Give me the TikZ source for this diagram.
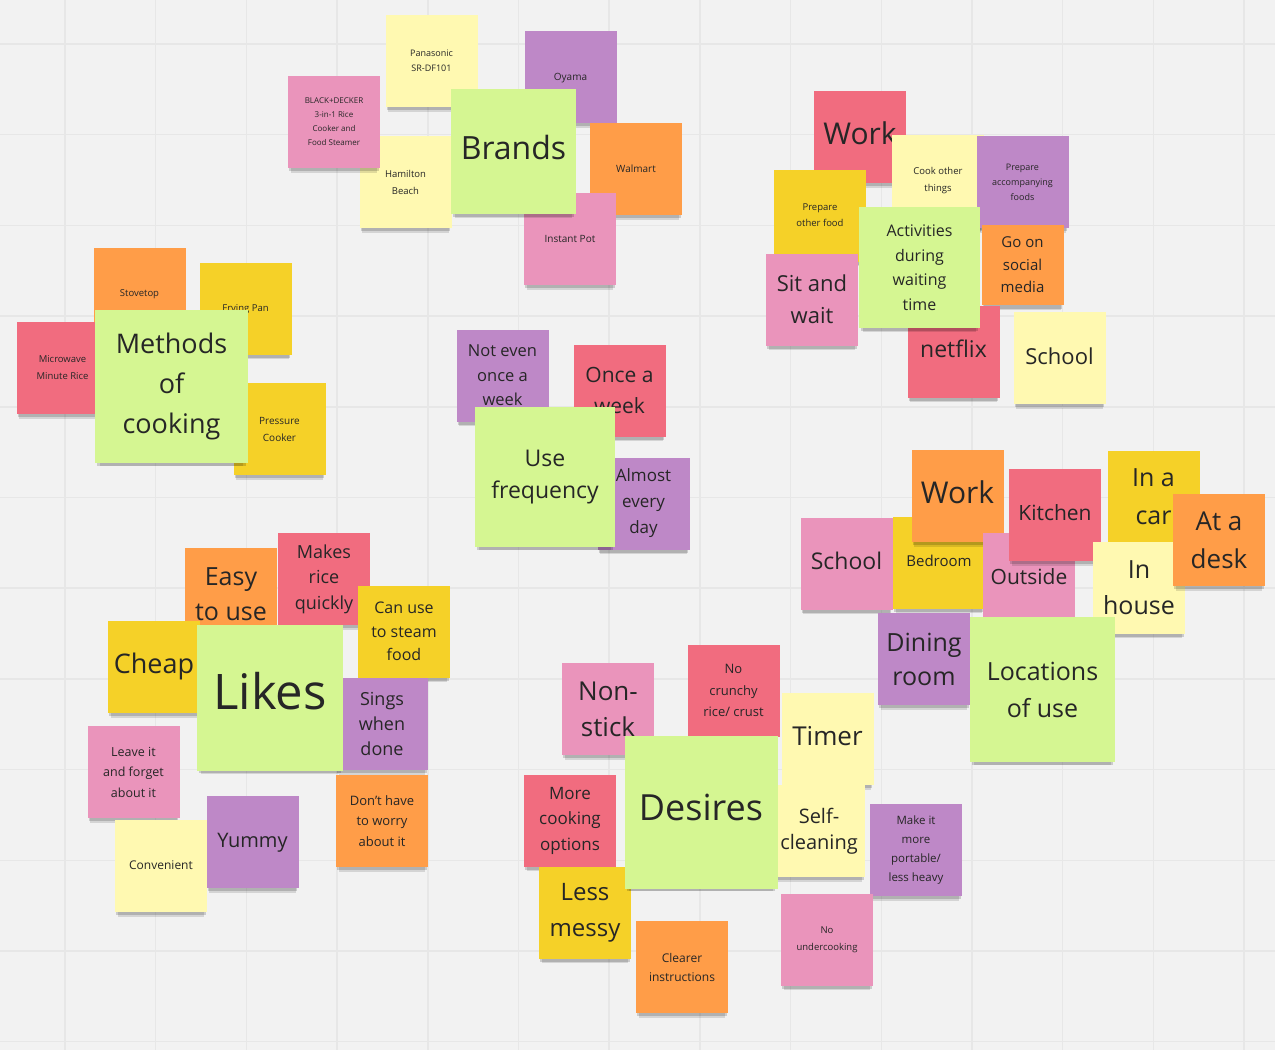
\documentclass[tikz,border=0pt]{standalone}
\usepackage{fontspec}
\setmainfont{Open Sans}
\usetikzlibrary{shadows}

\definecolor{canvas}{HTML}{F2F2F2}
\definecolor{gridline}{HTML}{E7E7E7}
\definecolor{ink}{HTML}{262626}
\definecolor{notepale}{HTML}{FFF9B1}
\definecolor{noteyellow}{HTML}{F5D128}
\definecolor{noteorange}{HTML}{FF9D48}
\definecolor{notered}{HTML}{F16C7F}
\definecolor{notepink}{HTML}{EA94BB}
\definecolor{noteviolet}{HTML}{BE88C7}
\definecolor{notegreen}{HTML}{D5F692}

\newcommand{\fsz}[2]{\fontsize{#1}{#2}\selectfont}

\tikzset{
  sticky/.style={minimum width=92pt, minimum height=92pt, inner sep=2pt,
    align=center, text=ink,
    drop shadow={shadow xshift=0pt, shadow yshift=-8pt, shadow scale=0.94,
      opacity=0.12, fill=black},
    drop shadow={shadow xshift=0pt, shadow yshift=-5pt, shadow scale=0.97,
      opacity=0.16, fill=black}},
  notesize/.style={minimum width=#1pt, minimum height=#1pt},
  pale/.style={sticky, fill=notepale},
  yellow/.style={sticky, fill=noteyellow},
  orange/.style={sticky, fill=noteorange},
  red/.style={sticky, fill=notered},
  pink/.style={sticky, fill=notepink},
  violet/.style={sticky, fill=noteviolet},
  topic/.style={sticky, fill=notegreen}
}

\begin{document}
\begin{tikzpicture}[x=1pt, y=-1pt]

    % Board and grid
    \fill[canvas] (0,0) rectangle (1275,1050);
    \useasboundingbox (0,0) rectangle (1275,1050);
    \foreach \gx in {0,...,13}
      \draw[gridline, line width=1.5pt] ({65+90.7*\gx},0) -- ++(0,1050);
    \foreach \gy in {0,...,11}
      \draw[gridline, line width=1.5pt] (0,{44+90.7*\gy}) -- ++(1275,0);

    % Brands
    \node[pale, font=\fsz{9}{15}] (panasonic) at (431.5,61) {Panasonic\\SR-DF101};
    \node[violet, font=\fsz{10}{15}] (oyama) at (570.5,77) {\strut Oyama};
    \node[pale, font=\fsz{9.5}{17}] (hamilton) at (405.5,182) {Hamilton\\Beach};
    \node[pink, font=\fsz{8}{14}] (blackdecker) at (334,122)
      {BLACK+DECKER\\3-in-1 Rice\\Cooker and\\Food Steamer};
    \node[orange, font=\fsz{10}{15}] (walmart) at (636,169) {\strut Walmart};
    \node[pink, font=\fsz{10}{15}] (instantpot) at (570,239) {\strut Instant Pot};
    \node[topic, notesize=125, font=\fsz{32}{40}] (brands) at (513.5,151.5) {\strut Brands};

    % Activities during waiting time
    \node[red, font=\fsz{30}{38}] (work-a) at (860,137) {\strut Work};
    \node[pale, font=\fsz{9.5}{17}] (cook) at (938,181) {Cook other\\things};
    \node[violet, font=\fsz{9}{15}] (prepacc) at (1022.5,182) {Prepare\\accompanying\\foods};
    \node[yellow, font=\fsz{9.5}{16}] (prepother) at (820,215.5) {Prepare\\other food};
    \node[orange, minimum width=82pt, minimum height=80pt, font=\fsz{15}{22.5}]
      (social) at (1022.5,265) {Go on\\social\\media};
    \node[red, font=\fsz{23}{30}] (netflix) at (953.5,351.5) {\strut netflix};
    \node[pale, font=\fsz{22}{30}] (school-a) at (1059.5,358) {\strut School};
    \node[pink, font=\fsz{22}{32}] (sitwait) at (812,299.5) {Sit and\\wait};
    \node[topic, notesize=121, font=\fsz{16}{24.5}] (activities) at (919.5,267.5)
      {Activities\\during\\waiting\\time};

    % Methods of cooking
    \node[orange, font=\fsz{9.5}{15}] (stovetop) at (139.5,293.5) {\strut Stovetop};
    \node[yellow, font=\fsz{9.5}{15}] (fryingpan) at (245.5,308.5) {\strut Frying Pan};
    \node[red, font=\fsz{9.5}{17}] (microwave) at (62.5,368) {Microwave\\Minute Rice};
    \node[yellow, font=\fsz{10}{17}] (pressure) at (279.5,429) {Pressure\\Cooker};
    \node[topic, notesize=153, font=\fsz{27}{40}] (methods) at (171.5,386.5)
      {Methods\\of\\cooking};

    % Use frequency
    \node[violet, font=\fsz{16.5}{24.5}] (noteven) at (502.5,375.5) {Not even\\once a\\week};
    \node[red, font=\fsz{21}{31}] (onceweek) at (619.5,390.5) {Once a\\week};
    \node[violet, font=\fsz{17}{26}] (almost) at (643.5,503.5) {Almost\\every\\day};
    \node[topic, notesize=140, font=\fsz{23}{32}] (usefreq) at (545,477) {Use\\frequency};

    % Locations of use
    \node[pink, font=\fsz{23}{30}] (school-b) at (846.5,563.5) {\strut School};
    \node[yellow, font=\fsz{15}{20}] (bedroom) at (939,562.5) {\strut Bedroom};
    \node[orange, font=\fsz{30}{38}] (work-b) at (957.5,496) {\strut Work};
    \node[pink, font=\fsz{21}{28}] (outside) at (1029,579) {\strut Outside};
    \node[red, font=\fsz{21}{28}] (kitchen) at (1055,515) {\strut Kitchen};
    \node[yellow, font=\fsz{25}{38}] (inacar) at (1153.5,496.5) {In a\\car};
    \node[pale, font=\fsz{25}{36}] (inhouse) at (1139,587.5) {In\\house};
    \node[orange, font=\fsz{26}{38}] (atdesk) at (1219,540) {At a\\desk};
    \node[violet, font=\fsz{25}{34}] (dining) at (924,659) {Dining\\room};
    \node[topic, notesize=145, font=\fsz{25}{37}] (locations) at (1042.5,689.5)
      {Locations\\of use};

    % Likes
    \node[orange, font=\fsz{25}{35}] (easy) at (231,594) {Easy\\to use};
    \node[red, font=\fsz{18}{25.5}] (quick) at (324,579) {Makes\\rice\\quickly};
    \node[yellow, font=\fsz{16}{23.5}] (steam) at (404,631.5) {Can use\\to steam\\food};
    \node[yellow, font=\fsz{27}{34}] (cheap) at (154,667) {\strut Cheap};
    \node[violet, font=\fsz{18}{25}] (sings) at (382,724) {Sings\\when\\done};
    \node[topic, notesize=146, font=\fsz{49}{60}] (likes) at (270,697.5) {\strut Likes};
    \node[pink, font=\fsz{12.5}{20.5}] (leave) at (133.5,772) {Leave it\\and forget\\about it};
    \node[orange, font=\fsz{13}{20.5}] (noworry) at (382,821) {Don't have\\to worry\\about it};
    \node[pale, font=\fsz{12}{18}] (convenient) at (161,866) {\strut Convenient};
    \node[violet, font=\fsz{20}{26}] (yummy) at (252.5,842) {\strut Yummy};

    % Desires
    \node[pink, font=\fsz{26}{36}] (nonstick) at (608,709) {Non-\\stick};
    \node[red, font=\fsz{13}{21.5}] (nocrunchy) at (733.5,690.5) {No\\crunchy\\rice/ crust};
    \node[pale, font=\fsz{26}{34}] (timer) at (827.5,739) {\strut Timer};
    \node[red, font=\fsz{17}{25.5}] (options) at (570,820.5) {More\\cooking\\options};
    \node[yellow, font=\fsz{24}{36}] (lessmessy) at (585,912.5) {Less\\messy};
    \node[pale, font=\fsz{20}{26}] (selfclean) at (819,831) {Self-\\cleaning};
    \node[topic, notesize=153, font=\fsz{36}{44}] (desires) at (701,812) {\strut Desires};
    \node[violet, font=\fsz{11.5}{19}] (portable) at (916,850)
      {Make it\\more\\portable/\\less heavy};
    \node[orange, font=\fsz{12}{19}] (clearer) at (682,967) {Clearer\\instructions};
    \node[pink, font=\fsz{9.5}{17}] (noundercook) at (827,939.5) {No\\undercooking};

\end{tikzpicture}
\end{document}
